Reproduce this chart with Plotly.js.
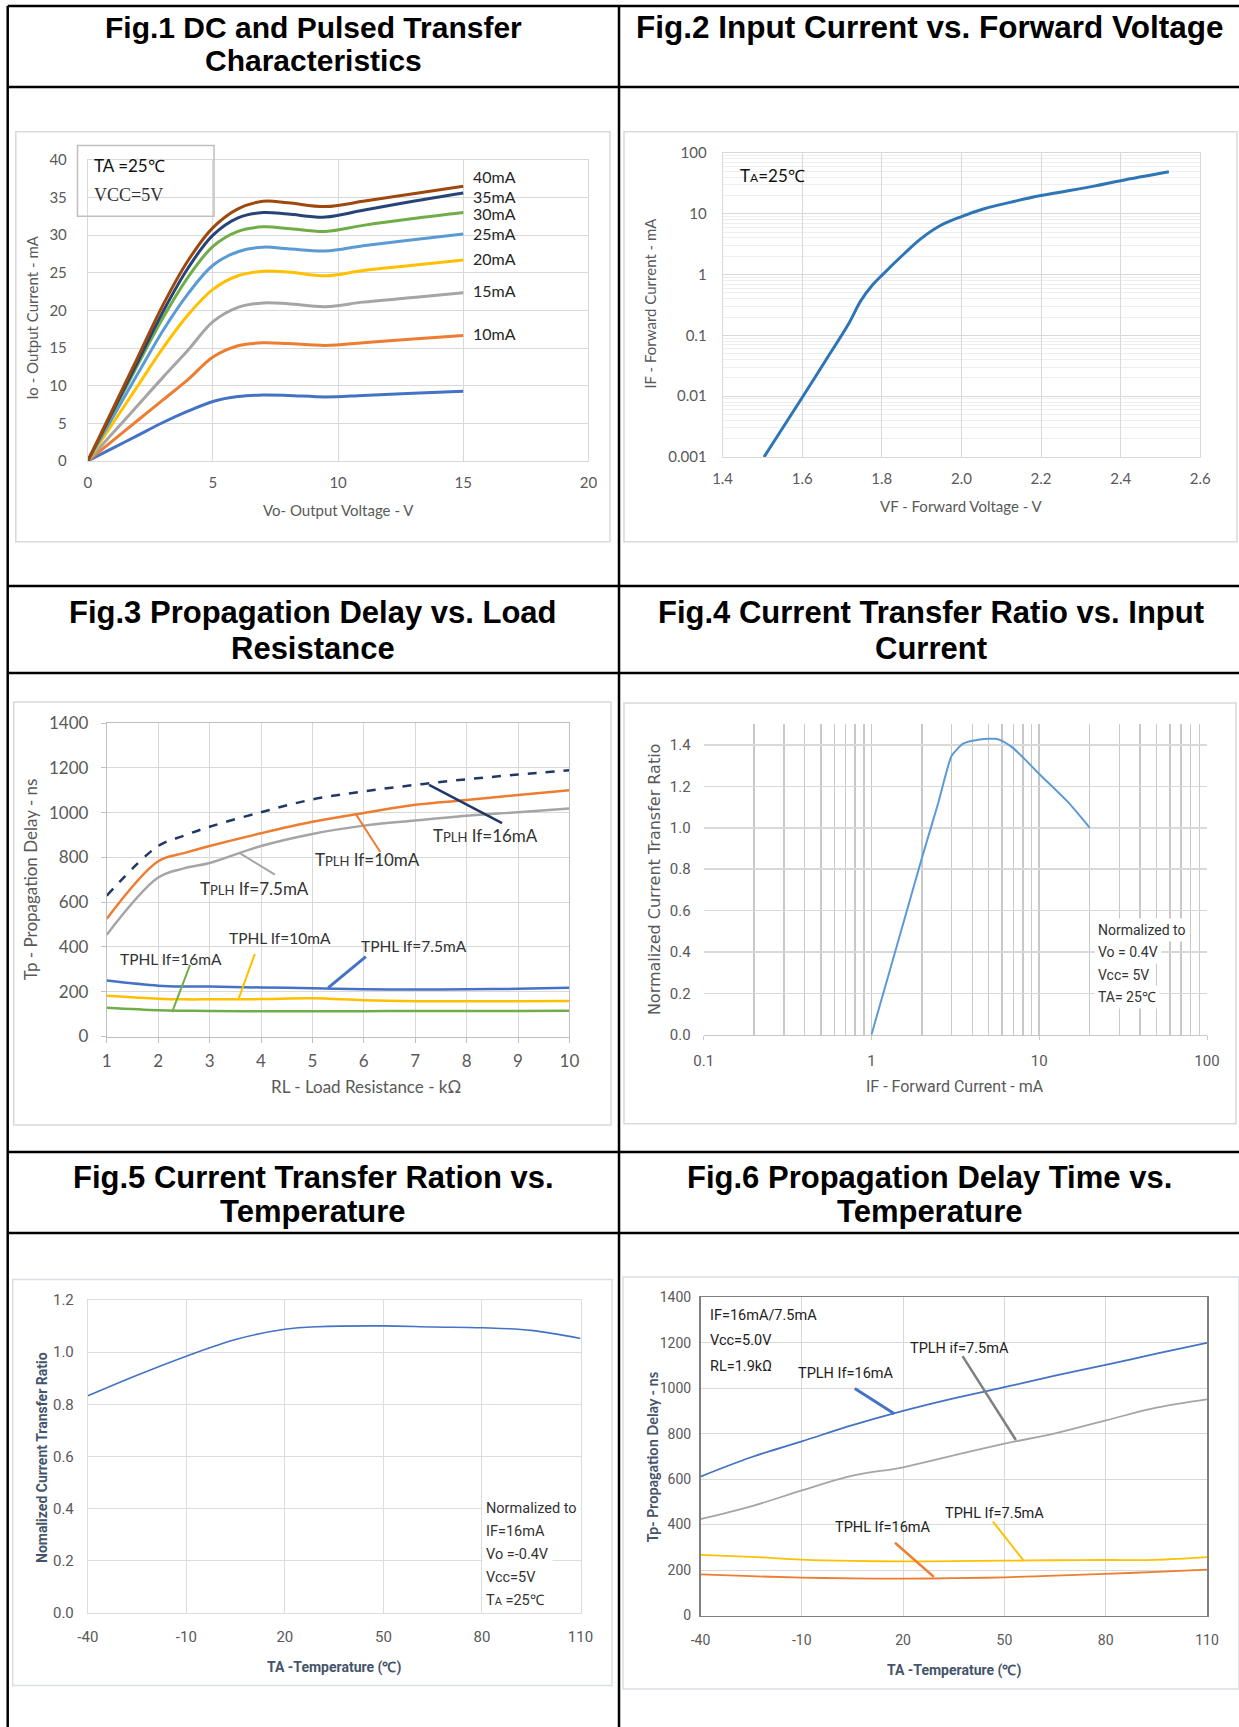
<!DOCTYPE html>
<html><head><meta charset="utf-8">
<script src="https://cdn.plot.ly/plotly-3.0.1.min.js"></script>
<style>html,body{margin:0;padding:0;background:#fff}</style>
</head><body>
<div id="chart" style="width:1239px;height:1727px"></div>
<script>
// ---------------- Fig.1 DC and Pulsed Transfer Characteristics ----------------
const fig1Vo = [0, 1, 2, 3, 4, 5, 6, 7, 8, 9.5, 11, 13, 15];
const fig1Io5  = [0, 1.7, 3.4, 5.1, 6.6, 7.9, 8.55, 8.75, 8.7, 8.5, 8.7, 9.0, 9.25];
const fig1Io10 = [0, 2.7, 5.4, 8.1, 10.8, 13.8, 15.3, 15.7, 15.6, 15.35, 15.7, 16.2, 16.65];
const fig1Io15 = [0, 3.7, 7.4, 11.1, 14.7, 18.5, 20.4, 21.0, 20.9, 20.5, 21.1, 21.7, 22.35];
const fig1Io20 = [0, 5.0, 10.0, 15.0, 19.4, 22.8, 24.6, 25.2, 25.1, 24.6, 25.3, 26.0, 26.7];
const fig1Io25 = [0, 5.8, 11.6, 17.3, 22.2, 26.0, 27.8, 28.4, 28.2, 27.9, 28.6, 29.4, 30.15];
const fig1Io30 = [0, 6.4, 12.8, 19.0, 24.4, 28.5, 30.5, 31.1, 30.9, 30.5, 31.3, 32.2, 33.0];
const fig1Io35 = [0, 6.6, 13.2, 19.8, 25.6, 30.0, 32.3, 33.0, 32.8, 32.4, 33.3, 34.5, 35.6];
const fig1Io40 = [0, 6.9, 13.8, 20.7, 26.6, 31.0, 33.5, 34.5, 34.3, 33.8, 34.5, 35.5, 36.5];
const fig1Labels = ['10mA', '15mA', '20mA', '25mA', '30mA', '35mA', '40mA'];
const fig1LabelY = [16.9, 22.65, 26.9, 30.25, 32.85, 35.1, 37.75];
const fig1LabelX = 15.3;

// ---------------- Fig.2 Input Current vs. Forward Voltage ----------------
const fig2Vf = [1.504, 1.598, 1.658, 1.717, 1.747, 1.777, 1.802, 1.856, 1.896, 1.945, 2.0, 2.055, 2.134, 2.2, 2.333, 2.4, 2.521];
const fig2If = [0.001, 0.0091, 0.038, 0.157, 0.37, 0.68, 1.0, 2.2, 3.8, 6.3, 9.0, 12.0, 16.1, 20, 28.5, 35, 49];

// ---------------- Fig.3 Propagation Delay vs. Load Resistance ----------------
const fig3RL = [1, 2, 2.5, 3, 4, 5, 6, 7, 8, 9, 10];
const fig3TplhIf16 = [629, 851, 897, 937, 1002, 1059, 1095, 1124, 1149, 1170, 1189];
const fig3TplhIf10 = [526, 783, 819, 851, 908, 959, 998, 1035, 1056, 1079, 1100];
const fig3TplhIf75 = [455, 710, 751, 775, 851, 905, 942, 965, 986, 1002, 1019];
const fig3TphlIf75 = [250, 227, 223, 223, 219, 216, 211, 210, 211, 213, 218];
const fig3TphlIf10 = [182, 169, 166, 166, 167, 171, 162, 158, 158, 158, 159];
const fig3TphlIf16 = [128, 117, 115, 114, 113, 113, 113, 114, 114, 114, 115];
const fig3LabelText = ['T<span style="font-size:13px">PLH</span> If=16mA', 'T<span style="font-size:13px">PLH</span> If=10mA', 'T<span style="font-size:13px">PLH</span> If=7.5mA', 'TPHL If=10mA', 'TPHL If=7.5mA', 'TPHL If=16mA'];
const fig3LabelX = [8.36, 6.07, 3.88, 4.36, 6.98, 2.25];
const fig3LabelY = [900, 791, 661, 439, 406, 344];
const fig3LeaderX = [[7.27, 8.69], [5.85, 6.32], [3.58, 4.27], [3.88, 3.56], [6.04, 5.31], [2.62, 2.27]];
const fig3LeaderY = [[1124, 953], [991, 824], [820, 723], [369, 166], [357, 218], [320, 109]];

// ---------------- Fig.4 Current Transfer Ratio vs. Input Current ----------------
const fig4If  = [1, 1.5, 2, 2.5, 3, 3.5, 4, 5, 5.5, 6, 7, 8, 10, 15, 20];
const fig4Ctr = [0, 0.50, 0.855, 1.12, 1.347, 1.405, 1.42, 1.43, 1.43, 1.42, 1.385, 1.34, 1.26, 1.12, 1.0];

// ---------------- Fig.5 Current Transfer Ratio vs. Temperature ----------------
const fig5Temp = [-40, -25, -10, 5, 20, 30, 50, 65, 80, 95, 110];
const fig5Ctr  = [0.833, 0.912, 0.985, 1.049, 1.088, 1.098, 1.101, 1.097, 1.094, 1.084, 1.053];
const tempTickVals = [-40, -10, 20, 50, 80, 110];
const tempTickText = ['-40', '-10', '20', '50', '80', '110'];

// ---------------- Fig.6 Propagation Delay Time vs. Temperature ----------------
const fig6Temp = [-40, -25, -10, 5, 20, 35, 50, 65, 80, 95, 110];
const fig6TplhIf16 = [611, 696, 766, 837, 900, 955, 1004, 1055, 1102, 1152, 1199];
const fig6TplhIf75 = [424, 480, 550, 615, 652, 704, 756, 801, 858, 914, 951];
const fig6TphlIf75 = [267, 258, 246, 240, 238, 239, 241, 243, 244, 245, 257];
const fig6TphlIf16 = [181, 173, 167, 163, 162, 164, 168, 175, 183, 192, 202];
const fig6LabelText = ['TPLH If=16mA', 'TPLH if=7.5mA', 'TPHL If=16mA', 'TPHL If=7.5mA'];
const fig6LabelX = [3.0, 36.8, 14.0, 47.1];
const fig6LabelY = [1065, 1173, 388, 450];
const fig6LeaderX = [[5.7, 17.4], [37.6, 53.4], [17.6, 29.1], [46.6, 55.6]];
const fig6LeaderY = [[998, 887], [1141, 772], [320, 170], [413, 243]];

// ---------------- helpers ----------------
const W = 1239, H = 1727;
const X = p => p / W;
const Y = p => 1 - p / H;
const LATO = 'Lato, "Open Sans", sans-serif';
const NARROW = 'Roboto, "Liberation Sans", sans-serif';
const ARIALB = '"Liberation Sans", Arial, sans-serif';
const SERIF = '"Liberation Serif", "DejaVu Serif", serif';

const C = {blue:'#4472C4', orange:'#ED7D31', gray:'#A5A5A5', gold:'#FFC000', lblue:'#5B9BD5', green:'#70AD47', navy:'#264478', brown:'#9E480E'};

const traces = [];
function line(ax, x, y, color, width, extra) {
  traces.push(Object.assign({type:'scatter', mode:'lines', x:x, y:y, xaxis:'x'+ax, yaxis:'y'+ax,
    line:{color:color, width:width, shape:'spline', smoothing:1}, hoverinfo:'skip', showlegend:false}, extra||{}));
}
function leader(ax, x, y, color, width) {
  traces.push({type:'scatter', mode:'lines', x:x, y:y, xaxis:'x'+ax, yaxis:'y'+ax,
    line:{color:color, width:width}, hoverinfo:'skip', showlegend:false});
}

// Fig1
[[fig1Io5,C.blue],[fig1Io10,C.orange],[fig1Io15,C.gray],[fig1Io20,C.gold],[fig1Io25,C.lblue],[fig1Io30,C.green],[fig1Io35,C.navy],[fig1Io40,C.brown]]
  .forEach(s => line('', fig1Vo, s[0], s[1], 3));
// Fig2
line('2', fig2Vf, fig2If, '#2E75B6', 3);
// Fig3
line('3', fig3RL, fig3TplhIf75, C.gray, 2.5);
line('3', fig3RL, fig3TplhIf10, C.orange, 2.5);
line('3', fig3RL, fig3TplhIf16, '#203864', 2.5, {line:{color:'#203864', width:2.5, dash:'dash', shape:'spline', smoothing:1}});
line('3', fig3RL, fig3TphlIf75, C.blue, 2.5);
line('3', fig3RL, fig3TphlIf10, C.gold, 2.5);
line('3', fig3RL, fig3TphlIf16, C.green, 2.5);
const fig3LeaderColor = ['#203864', C.orange, C.gray, C.gold, C.blue, C.green];
const fig3LeaderWidth = [2.5, 2, 2, 2, 3, 2];
fig3LeaderX.forEach((lx, i) => leader('3', lx, fig3LeaderY[i], fig3LeaderColor[i], fig3LeaderWidth[i]));
// Fig4
line('4', fig4If, fig4Ctr, C.lblue, 2, {line:{color:C.lblue, width:2, shape:'spline', smoothing:0.5}});
// Fig5
line('5', fig5Temp, fig5Ctr, C.blue, 1.6);
// Fig6
line('6', fig6Temp, fig6TplhIf16, C.blue, 1.8);
line('6', fig6Temp, fig6TplhIf75, C.gray, 1.8);
line('6', fig6Temp, fig6TphlIf75, C.gold, 1.8);
line('6', fig6Temp, fig6TphlIf16, C.orange, 1.8);
const fig6LeaderColor = [C.blue, '#808080', C.orange, C.gold];
const fig6LeaderWidth = [3, 2.5, 2.5, 2];
fig6LeaderX.forEach((lx, i) => leader('6', lx, fig6LeaderY[i], fig6LeaderColor[i], fig6LeaderWidth[i]));

// ---------------- axes ----------------
function axis(o) {
  return Object.assign({showgrid:true, gridcolor:'#D9D9D9', gridwidth:1, zeroline:false, showline:true,
    linecolor:'#D9D9D9', linewidth:1, mirror:true, ticks:'', fixedrange:true,
    tickfont:{family:LATO, size:14, color:'#595959'}}, o);
}
const layout = {
  width: W, height: H, margin:{l:0, r:0, t:0, b:0}, paper_bgcolor:'#fff', plot_bgcolor:'rgba(0,0,0,0)',
  showlegend:false, hovermode:false,
  xaxis: axis({domain:[X(87.8), X(588.4)], anchor:'y', range:[0,20], dtick:5, ticklabelstandoff:8, tickfont:{family:LATO, size:15, color:'#595959'}}),
  yaxis: axis({domain:[Y(460.9), Y(159.9)], anchor:'x', range:[0,40], dtick:5, ticklabelstandoff:17, tickfont:{family:LATO, size:15, color:'#595959'}}),
  xaxis2: axis({domain:[X(722.6), X(1200.3)], anchor:'y2', range:[1.4,2.6], dtick:0.2, tickformat:'.1f', ticklabelstandoff:8, tickfont:{family:LATO, size:15, color:'#595959'}}),
  yaxis2: axis({domain:[Y(457), Y(153)], anchor:'x2', type:'log', range:[-3,2], dtick:1, tickformat:'~g', ticklabelstandoff:12,
    tickfont:{family:LATO, size:15, color:'#595959'},
    minor:{dtick:'D1', showgrid:true, gridcolor:'#EEEEEE', gridwidth:1}}),
  xaxis3: axis({domain:[X(106.8), X(569.4)], anchor:'y3', range:[1,10], dtick:1, ticks:'outside', ticklen:5, tickcolor:'#BFBFBF',
    linecolor:'#BFBFBF', tickfont:{family:LATO, size:17, color:'#595959'}, ticklabelstandoff:4}),
  yaxis3: axis({domain:[Y(1036.5), Y(723.1)], anchor:'x3', range:[0,1400], dtick:200, ticks:'outside', ticklen:5, tickcolor:'#BFBFBF',
    linecolor:'#BFBFBF', tickfont:{family:LATO, size:17, color:'#595959'}, ticklabelstandoff:9}),
  xaxis4: axis({domain:[X(703.7), X(1207)], anchor:'y4', type:'log', range:[-1,2], dtick:1, tickformat:'~g', gridcolor:'#C8C8C8', gridwidth:1.5,
    mirror:false, linecolor:'#C8C8C8', ticks:'outside', ticklen:4, tickcolor:'#C8C8C8',
    minor:{dtick:'D1', showgrid:true, gridcolor:'#C8C8C8', gridwidth:1.5},
    tickfont:{family:NARROW, size:15, color:'#595959'}, ticklabelstandoff:8}),
  yaxis4: axis({domain:[Y(1034.7), Y(724.3)], anchor:'x4', range:[0,1.5], dtick:0.2, tick0:0, tickformat:'.1f', mirror:false,
    showline:false, gridwidth:1.5, tickfont:{family:NARROW, size:15, color:'#595959'}, ticklabelstandoff:12}),
  xaxis5: axis({domain:[X(87.8), X(580.5)], anchor:'y5', range:[-40,110], tickmode:'array', tickvals:tempTickVals, ticktext:tempTickText,
    gridcolor:'#D9DEE6', linecolor:'#D9DEE6', tickfont:{family:NARROW, size:15, color:'#595959'}, ticklabelstandoff:10}),
  yaxis5: axis({domain:[Y(1612.9), Y(1300.1)], anchor:'x5', range:[0,1.2], dtick:0.2, tickformat:'.1f', gridcolor:'#D9DEE6', linecolor:'#D9DEE6',
    tickfont:{family:NARROW, size:15, color:'#595959'}, ticklabelstandoff:10}),
  xaxis6: axis({domain:[X(700.5), X(1207)], anchor:'y6', range:[-40,110], tickmode:'array', tickvals:tempTickVals, ticktext:tempTickText,
    linecolor:'#808080', linewidth:1.5, tickfont:{family:NARROW, size:14, color:'#595959'}, ticklabelstandoff:11}),
  yaxis6: axis({domain:[Y(1615.5), Y(1297.2)], anchor:'x6', range:[0,1400], dtick:200, linecolor:'#808080', linewidth:1.5,
    tickfont:{family:NARROW, size:14, color:'#595959'}, ticklabelstandoff:5}),
  shapes: [], annotations: []
};

// table lines and chart boxes
const S = layout.shapes;
function pline(x0, y0, x1, y1, color, w) { S.push({type:'line', xref:'paper', yref:'paper', x0:X(x0), y0:Y(y0), x1:X(x1), y1:Y(y1), line:{color:color, width:w}}); }
function prect(x0, y0, x1, y1, color, w) { S.push({type:'rect', xref:'paper', yref:'paper', x0:X(x0), y0:Y(y0), x1:X(x1), y1:Y(y1), line:{color:color, width:w}, fillcolor:'rgba(0,0,0,0)'}); }
[6, 87, 586, 673, 1152, 1233].forEach(y => pline(7.7, y, 1239, y, '#000', 2.5));
pline(7.7, 6, 7.7, 1727, '#000', 2.5);
pline(619, 6, 619, 1727, '#000', 2.5);
prect(15.8, 131.7, 610, 541.8, '#D9D9D9', 1.5);
prect(624, 131.7, 1237, 541.8, '#D9D9D9', 1.5);
prect(13.8, 702, 611, 1125, '#D9D9D9', 1.5);
prect(624, 703, 1236, 1123.7, '#D9D9D9', 1.5);
prect(12.7, 1279.5, 612, 1685.4, '#D9DEE6', 1.5);
prect(623, 1277, 1239, 1689, '#D9DEE6', 1.5);
prect(77.5, 145.6, 214, 216.3, '#BFBFBF', 1.5);

const A = layout.annotations;
function pann(text, x, y, font, o) {
  A.push(Object.assign({xref:'paper', yref:'paper', x:X(x), y:Y(y), text:text, showarrow:false, xanchor:'center', yanchor:'middle', font:font}, o||{}));
}
const TF = {family:ARIALB, size:31, color:'#000'};
pann('<b>Fig.1 DC and Pulsed Transfer</b>', 313.4, 27, {family:ARIALB, size:30, color:'#000'});
pann('<b>Characteristics</b>', 313.4, 60.5, {family:ARIALB, size:30, color:'#000'});
pann('<b>Fig.2 Input Current vs. Forward Voltage</b>', 929.5, 26.5, {family:ARIALB, size:31.5, color:'#000'});
pann('<b>Fig.3 Propagation Delay vs. Load</b>', 313, 612.3, TF);
pann('<b>Resistance</b>', 313, 648.6, TF);
pann('<b>Fig.4 Current Transfer Ratio vs. Input</b>', 930.5, 612.3, TF);
pann('<b>Current</b>', 930.5, 648.6, TF);
pann('<b>Fig.5 Current Transfer Ration vs.</b>', 313, 1177.6, TF);
pann('<b>Temperature</b>', 313, 1211.8, TF);
pann('<b>Fig.6 Propagation Delay Time vs.</b>', 930, 1177.6, TF);
pann('<b>Temperature</b>', 930, 1211.8, TF);

// axis titles
const AT = {family:LATO, size:15, color:'#595959'};
pann('Vo- Output Voltage - V', 338, 510, AT);
pann('Io - Output Current - mA', 31.6, 318, AT, {textangle:-90});
pann('VF - Forward Voltage - V', 961.5, 506, AT);
pann('IF - Forward Current - mA', 649.6, 303, AT, {textangle:-90});
pann('RL - Load Resistance - k\u03A9', 365.8, 1086, {family:LATO, size:17, color:'#595959'});
pann('Tp - Propagation Delay - ns', 30.8, 879.4, {family:LATO, size:17, color:'#595959'}, {textangle:-90});
pann('IF - Forward Current - mA', 954.8, 1086.6, {family:NARROW, size:16, color:'#595959'});
pann('Normalized Current Transfer Ratio', 654.7, 879.4, {family:'"DejaVu Sans", sans-serif', size:16, color:'#595959'}, {textangle:-90});
pann('<b>TA -Temperature (\u2103)</b>', 334, 1667, {family:NARROW, size:14, color:'#44546A'});
pann('<b>Nomalized Current Transfer Ratio</b>', 42.7, 1457.3, {family:NARROW, size:14, color:'#44546A'}, {textangle:-90});
pann('<b>TA -Temperature (\u2103)</b>', 953.6, 1670.7, {family:NARROW, size:14, color:'#44546A'});
pann('<b>Tp- Propagation Delay - ns</b>', 652, 1457.3, {family:LATO, size:14.5, color:'#44546A'}, {textangle:-90});

// notes
pann('TA =25\u2103', 91.7, 165.5, {family:LATO, size:17, color:'#111'}, {xanchor:'left'});
pann('VCC=5V', 91.7, 194.5, {family:SERIF, size:18, color:'#333'}, {xanchor:'left'});
pann('T<span style="font-size:12px">A</span>=25\u2103', 738, 175, {family:LATO, size:17, color:'#111'}, {xanchor:'left'});
const NF = {family:NARROW, size:14, color:'#333'};
pann('Normalized to', 1094, 929.6, NF, {xanchor:'left', bgcolor:'#fff', borderpad:3});
pann('Vo = 0.4V', 1094, 952, NF, {xanchor:'left', bgcolor:'#fff', borderpad:3});
pann('Vcc= 5V', 1094, 974.7, NF, {xanchor:'left', bgcolor:'#fff', borderpad:3});
pann('TA= 25\u2103', 1094, 997, NF, {xanchor:'left', bgcolor:'#fff', borderpad:3});
const NF5 = {family:NARROW, size:14.5, color:'#333'};
pann('Normalized to', 481.6, 1508.8, NF5, {xanchor:'left', bgcolor:'#fff', borderpad:3});
pann('IF=16mA', 481.6, 1531.6, NF5, {xanchor:'left', bgcolor:'#fff', borderpad:3});
pann('Vo =-0.4V', 481.6, 1554.8, NF5, {xanchor:'left', bgcolor:'#fff', borderpad:3});
pann('Vcc=5V', 481.6, 1577.6, NF5, {xanchor:'left', bgcolor:'#fff', borderpad:3});
pann('T<span style="font-size:11px">A</span> =25\u2103', 481.6, 1600.8, NF5, {xanchor:'left', bgcolor:'#fff', borderpad:3});
const NF6 = {family:NARROW, size:14.5, color:'#222'};
pann('IF=16mA/7.5mA', 707.6, 1315, NF6, {xanchor:'left'});
pann('Vcc=5.0V', 707.6, 1340.6, NF6, {xanchor:'left'});
pann('RL=1.9k\u03A9', 707.6, 1366.4, NF6, {xanchor:'left'});

// data-anchored labels
fig1Labels.forEach((t, i) => A.push({xref:'x', yref:'y', x:fig1LabelX, y:fig1LabelY[i], text:t, showarrow:false, xanchor:'left', yanchor:'middle',
  font:{family:LATO, size:16, color:'#262626'}}));
fig3LabelText.forEach((t, i) => A.push({xref:'x3', yref:'y3', x:fig3LabelX[i], y:fig3LabelY[i], text:t, showarrow:false, xanchor:'center', yanchor:'middle',
  font:{family:LATO, size:i < 3 ? 17 : 15.5, color:'#333'}}));
fig6LabelText.forEach((t, i) => A.push({xref:'x6', yref:'y6', x:fig6LabelX[i], y:fig6LabelY[i], text:t, showarrow:false, xanchor:'center', yanchor:'middle',
  font:{family:NARROW, size:14.5, color:'#222'}}));

Plotly.newPlot('chart', traces, layout, {staticPlot:true, displayModeBar:false});
</script>
</body></html>
